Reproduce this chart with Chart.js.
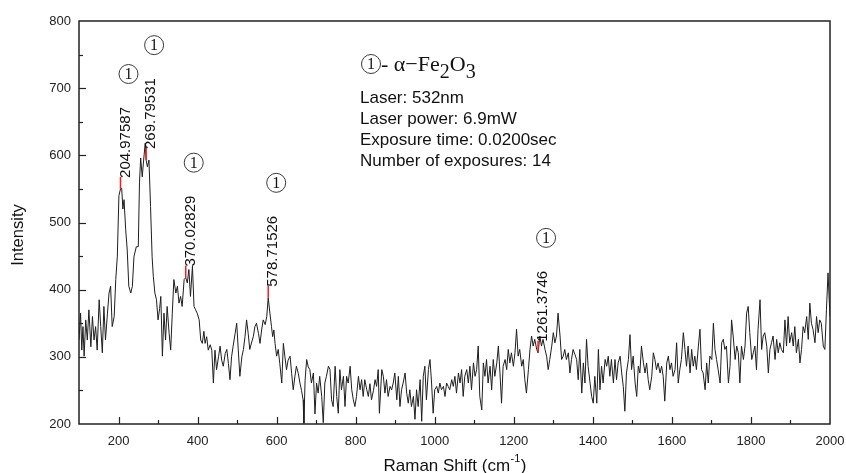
<!DOCTYPE html>
<html><head><meta charset="utf-8">
<script src="https://cdn.jsdelivr.net/npm/chart.js@4.4.1/dist/chart.umd.min.js"></script>
<style>html,body{margin:0;padding:0;background:#fff;}#wrap{width:846px;height:473px;}</style>
</head><body><div id="wrap"><canvas id="c" width="846" height="473"></canvas></div>
<script>
const ramanShift = [100,104,107,110,113,117,121,125,130,134,138,142,146,151,155,159,163,167,172,176,180,184,189,193,197,201,204.97587,208,211,214,218,222,226,231,235,239,245,250,253,256,260,264,267.5,269.79531,273,277,281,285,288,292,296,300,304,307,311,315,319,323,328,332,336,340,345,349,353,357,361,366,370.02829,374,378,382,387,391,395,399,404,408,412,416,419,423,427,432,436,440,444,448,453,457,461,465,470,474,478,482,486,490,495,499,503,507,512,516,520,524,528,532,537,541,545,549,554,558,562,566,571,575,578.71526,583,587,590,593,596,600,604,608,613,617,621,625,629,634,638,642,646,650,655,659,663,667,669,672,676,680,684,688,693,697,701,705,709,714,718,722,726,731,735,739,743,748,752,756,760,764,769,773,777,781,786,790,794,798,802,807,811,815,819,823,828,832,836,840,845,849,853,857,860,866,870,874,878,882,887,891,895,899,904,908,912,916,920,925,929,933,937,941,946,950,954,958,963,967,971,975,979,984,988,992,996,1000,1005,1009,1013,1017,1022,1026,1030,1034,1038,1043,1047,1051,1055,1060,1064,1068,1072,1076,1081,1085,1089,1093,1098,1102,1106,1110,1114,1119,1123,1127,1131,1135,1140,1144,1148,1152,1157,1161,1165,1169,1173,1178,1182,1186,1190,1194,1199,1203,1207,1211,1215,1220,1224,1228,1232,1237,1241,1245,1249,1253,1258,1261.3746,1266,1270,1274,1279,1283,1287,1291,1296,1300,1304,1308,1312,1317,1321,1325,1329,1333,1338,1342,1346,1350,1355,1359,1363,1367,1372,1376,1380,1384,1388,1393,1397,1401,1405,1410,1414,1418,1422,1426,1431,1435,1439,1443,1447,1452,1456,1460,1464,1469,1473,1477,1481,1485,1490,1494,1498,1502,1507,1511,1515,1519,1523,1528,1532,1536,1540,1544,1549,1553,1557,1561,1565,1570,1574,1578,1582,1587,1591,1595,1599,1603,1608,1612,1616,1620,1624,1629,1633,1637,1641,1646,1650,1654,1658,1662,1667,1671,1675,1679,1684,1688,1692,1696,1701,1705,1709,1713,1717,1722,1726,1730,1734,1738,1743,1747,1751,1755,1760,1764,1768,1772,1776,1781,1785,1789,1793,1797,1802,1806,1810,1814,1818,1823,1827,1831,1835,1840,1844,1848,1852,1856,1861,1865,1869,1873,1877,1882,1886,1890,1894,1898,1903,1907,1911,1915,1920,1924,1928,1932,1936,1941,1945,1949,1953,1957,1962,1966,1970,1974,1978,1983,1987,1991,1995,1998,2000];
const intensity = [325,365,310,345,301,355,325,370,315,360,325,345,310,385,345,306,375,325,365,395,405,345,360,415,450,540,550,551,520,534,490,459,405,395,405,449,464,464,559,596,568,596,618,593,583,593,524,449,420,395,385,355,372,390,301,365,325,375,335,310,365,415,395,405,380,390,375,415,418,410,430,390,435,375,370,365,355,325,320,338,320,330,310,318,310,261,310,281,300,316,295,286,305,311,290,266,300,316,335,350,310,271,300,311,330,355,335,311,322,330,345,350,335,320,340,355,348,360,388,365,345,330,340,320,301,311,290,261,320,300,281,295,301,275,251,270,286,275,261,250,236,201,265,296,285,281,261,276,215,261,246,271,241,202,261,271,286,281,236,226,286,241,216,281,251,271,226,271,261,286,251,236,226,241,271,251,266,241,266,251,241,260,236,250,266,256,281,216,281,271,246,266,241,256,251,261,276,236,271,226,251,261,276,246,231,251,226,241,207,251,226,266,204,271,286,236,281,296,261,216,251,256,246,261,251,256,241,261,256,251,266,256,271,246,276,261,281,241,271,281,261,286,251,291,271,281,316,241,221,291,271,296,261,286,251,296,271,291,316,276,231,286,296,281,311,291,306,286,306,341,301,311,286,296,266,246,281,311,331,316,326,311,306,331,316,326,311,301,281,296,316,336,321,331,365,331,296,301,311,296,306,276,296,311,303,296,266,311,246,291,261,326,286,261,241,231,271,231,311,251,286,261,296,286,301,271,296,261,296,266,291,301,276,256,219,276,296,333,281,301,261,241,286,276,316,291,276,291,266,251,271,306,296,281,291,276,286,271,234,291,301,281,291,271,281,321,261,281,296,336,311,286,316,276,311,286,301,281,316,341,281,276,251,291,261,301,296,350,311,296,281,261,321,326,311,316,261,286,355,331,296,316,306,261,316,296,316,365,375,336,296,306,316,281,341,385,311,331,336,316,276,311,321,331,296,326,306,321,311,306,355,316,360,321,336,316,345,306,326,291,311,345,336,360,326,380,350,341,321,360,336,355,350,316,311,370,425,385,360];
const xTicks = [200,400,600,800,1000,1200,1400,1600,1800,2000];
const yTicks = [200,300,400,500,600,700,800];
const peakShifts = [204.97587,269.79531,370.02829,578.71526,1261.3746];
const peakIntensity = [550,593,418,388,306];
const peakLabels = ['204.97587','269.79531','370.02829','578.71526','1261.3746'];
const infoLines = ['Laser: 532nm','Laser power: 6.9mW','Exposure time: 0.0200sec','Number of exposures: 14'];
const xTitle = 'Raman Shift (cm';
const xTitleSup = '-1';
const yTitle = 'Intensity';

const SANS = '"Liberation Sans", Arial, sans-serif';
const SERIF = '"Liberation Serif", "Times New Roman", serif';

function circledOne(ctx, cx, cy) {
  ctx.save();
  ctx.beginPath();
  ctx.arc(cx, cy, 9.5, 0, Math.PI * 2);
  ctx.lineWidth = 1;
  ctx.strokeStyle = '#3a3a3a';
  ctx.stroke();
  ctx.fillStyle = '#111';
  ctx.font = '16px ' + SERIF;
  ctx.textAlign = 'center';
  ctx.textBaseline = 'middle';
  ctx.fillText('1', cx, cy + 1);
  ctx.restore();
}

const decor = {
  id: 'decor',
  afterDatasetsDraw(chart) {
    const ctx = chart.ctx;
    const xs = chart.scales.x, ys = chart.scales.y;
    const a = chart.chartArea;
    ctx.save();
    ctx.strokeStyle = '#222';
    ctx.lineWidth = 1.5;
    ctx.strokeRect(a.left, a.top, a.right - a.left, a.bottom - a.top);
    ctx.lineWidth = 1.2;
    for (let i = 0; i < xTicks.length; i++) {
      const major = xTicks[i];
      const minor = major - (xTicks[1] - xTicks[0]) / 2;
      [[major, 7], [minor, 4]].forEach(([v, len]) => {
        if (v <= xs.min || v >= xs.max) return;
        const px = Math.round(xs.getPixelForValue(v)) + 0.5;
        ctx.beginPath(); ctx.moveTo(px, a.bottom); ctx.lineTo(px, a.bottom - len); ctx.stroke();
      });
    }
    for (let i = 0; i < yTicks.length; i++) {
      const major = yTicks[i];
      const minor = major + (yTicks[1] - yTicks[0]) / 2;
      [[major, 7], [minor, 4]].forEach(([v, len]) => {
        if (v <= ys.min || v >= ys.max) return;
        const py = Math.round(ys.getPixelForValue(v)) + 0.5;
        ctx.beginPath(); ctx.moveTo(a.left, py); ctx.lineTo(a.left + len, py); ctx.stroke();
      });
    }
    for (let i = 0; i < peakShifts.length; i++) {
      const px = xs.getPixelForValue(peakShifts[i]);
      const py = ys.getPixelForValue(peakIntensity[i]);
      ctx.strokeStyle = '#ff1a1a';
      ctx.lineWidth = 1.5;
      ctx.beginPath(); ctx.moveTo(px, py); ctx.lineTo(px, py - 12); ctx.stroke();
      ctx.save();
      ctx.font = '15px ' + SANS;
      const w = ctx.measureText(peakLabels[i]).width;
      ctx.translate(px + 5, py - 11);
      ctx.rotate(-Math.PI / 2);
      ctx.fillStyle = '#111';
      ctx.textAlign = 'left';
      ctx.textBaseline = 'middle';
      ctx.fillText(peakLabels[i], 0, 0);
      ctx.restore();
      circledOne(ctx, px + 8, py - 11 - w - 33);
    }
    circledOne(ctx, 371, 64);
    ctx.fillStyle = '#111';
    ctx.textBaseline = 'alphabetic';
    ctx.textAlign = 'left';
    let tx = 381;
    const base = 71;
    ctx.font = '22px ' + SERIF;
    const p1 = '- \u03b1\u2212Fe';
    ctx.fillText(p1, tx, base); tx += ctx.measureText(p1).width;
    ctx.font = '20px ' + SERIF;
    ctx.fillText('2', tx, base + 7); tx += ctx.measureText('2').width;
    ctx.font = '22px ' + SERIF;
    ctx.fillText('O', tx, base); tx += ctx.measureText('O').width;
    ctx.font = '20px ' + SERIF;
    ctx.fillText('3', tx, base + 7);
    ctx.font = '17px ' + SANS;
    ctx.textBaseline = 'middle';
    infoLines.forEach((t, i) => ctx.fillText(t, 360, 98 + i * 21));
    ctx.font = '17px ' + SANS;
    ctx.fillStyle = '#111';
    const w1 = ctx.measureText(xTitle).width;
    ctx.font = '11px ' + SANS;
    const w2 = ctx.measureText(xTitleSup).width;
    ctx.font = '17px ' + SANS;
    const w3 = ctx.measureText(')').width;
    let sx = (a.left + a.right) / 2 - (w1 + w2 + w3) / 2;
    ctx.textBaseline = 'alphabetic';
    ctx.fillText(xTitle, sx, 471);
    ctx.font = '11px ' + SANS;
    ctx.fillText(xTitleSup, sx + w1 + 0.5, 462);
    ctx.font = '17px ' + SANS;
    ctx.fillText(')', sx + w1 + w2 + 1, 471);
    ctx.save();
    ctx.font = '16.5px ' + SANS;
    ctx.translate(18, 235);
    ctx.rotate(-Math.PI / 2);
    ctx.textAlign = 'center';
    ctx.textBaseline = 'middle';
    ctx.fillText(yTitle, 0, 0);
    ctx.restore();
    ctx.restore();
  }
};

const points = ramanShift.map((x, i) => ({ x: x, y: intensity[i] }));

new Chart(document.getElementById('c'), {
  type: 'scatter',
  data: { datasets: [{
    data: points,
    showLine: true,
    borderColor: '#1e1e1e',
    borderWidth: 1,
    pointRadius: 0,
    tension: 0
  }] },
  options: {
    responsive: false,
    devicePixelRatio: 1,
    animation: false,
    layout: { padding: { top: 21, right: 16, left: 0, bottom: 0 } },
    plugins: { legend: { display: false }, tooltip: { enabled: false } },
    scales: {
      x: {
        type: 'linear', min: 100, max: 2000,
        afterBuildTicks: s => { s.ticks = xTicks.map(v => ({ value: v })); },
        afterFit: s => { s.height = 49; s.paddingLeft = 0; s.paddingRight = 0; },
        grid: { display: false, drawTicks: false },
        border: { display: false },
        ticks: { font: { family: SANS, size: 13 }, color: '#222', padding: 10, maxRotation: 0, autoSkip: false, callback: v => String(v) }
      },
      y: {
        type: 'linear', min: 200, max: 800,
        afterBuildTicks: s => { s.ticks = yTicks.map(v => ({ value: v })); },
        afterFit: s => { s.width = 79; s.paddingTop = 0; s.paddingBottom = 0; },
        grid: { display: false, drawTicks: false },
        border: { display: false },
        ticks: { font: { family: SANS, size: 13 }, color: '#222', padding: 8, autoSkip: false, callback: v => String(v) }
      }
    }
  },
  plugins: [decor]
});
</script></body></html>
